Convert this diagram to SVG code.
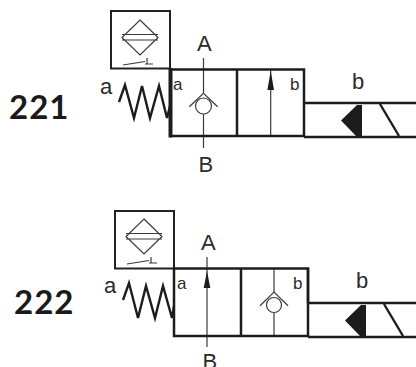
<svg xmlns="http://www.w3.org/2000/svg" width="416" height="367" viewBox="0 0 416 367">
<style>
text{font-family:"Liberation Sans",Arial,sans-serif;fill:#2a2a2a}
text.n{font-family:Lato,"Liberation Sans",sans-serif;font-size:33px;font-weight:bold;fill:#1a1a1a;letter-spacing:1px}
.l{font-size:22px}
.s{font-size:17px}
.box{fill:none;stroke:#222;stroke-width:2}
.t{fill:none;stroke:#3a3a3a;stroke-width:1.2}
.sp{fill:none;stroke:#1c1c1c;stroke-width:2.4;stroke-linejoin:miter}
.w{fill:none;stroke:#1c1c1c;stroke-width:2.5}
.f{fill:#1c1c1c}
</style>
<defs>
<g id="sym">
<path class="t" d="M29 9L47 26.500L29 44L11 26.500Z M11 23.500H47 M11 29H47"/>
<path class="t" d="M12 54L34 50.500M36 47V53M34 53H42"/>
</g>
<g id="sol">
<path class="w" d="M0 0H112M0 34H112"/>
<path class="f" d="M37 17.500L53 2H58V34H53Z"/>
<path class="sp" d="M76 1L95 33"/>
</g>
</defs>
<g id="connectors">
<path class="t" d="M203.500 58V93M203.500 114V148"/>
<path class="t" d="M270.700 70V136"/>
<path class="f" d="M270.700 71L274 90H267.400Z"/>
<path class="t" d="M207 257V347"/>
<path class="f" d="M207 271L210.300 288H203.700Z"/>
<path class="t" d="M274 269V292M274 313V336"/>
</g>
<g id="label-221"><text class="n" x="9" y="119">221</text></g>
<g id="symbol-221"><rect class="box" x="111" y="11" width="59" height="57.500"/><use href="#sym" x="111" y="11"/></g>
<g id="spring-221"><path class="sp" d="M119 102L125 85L134 118L142 86L150 118L159 86L167 118L170 106"/><text class="l" x="100" y="94">a</text></g>
<g id="valve-221">
<path class="w" d="M170 69.500H304V136H170M304 69.500V103M237 69.500V136" stroke-width="3"/>
<path class="f" d="M168.500 68H172.500V137.500H168.500Z"/>
<text class="s" x="173" y="90">a</text><text class="s" x="290" y="90">b</text>
<circle class="t" cx="203.500" cy="106" r="8"/><path class="t" d="M189.300 106.700L203.500 93.300L217.700 106.700"/>
</g>
<g id="solenoid-221"><use href="#sol" x="304" y="103"/><text class="l" x="352" y="89">b</text></g>
<text class="l" x="197" y="51">A</text>
<text class="l" x="198.500" y="172">B</text>
<g id="label-222"><text class="n" x="14" y="314">222</text></g>
<g id="symbol-222"><rect class="box" x="115" y="211" width="59" height="57.500"/><use href="#sym" x="115" y="210"/></g>
<g id="spring-222"><path class="sp" d="M123 300L129 283L138 318L146 286L155 318L163 286L172 318L174 306"/><text class="l" x="104" y="293">a</text></g>
<g id="valve-222">
<path class="w" d="M174 268.500H308V336H174Z"/>
<path class="w" d="M241 269V336M308 268V303" stroke-width="3"/>
<text class="s" x="177" y="289">a</text><text class="s" x="293" y="289">b</text>
<circle class="t" cx="274" cy="305" r="7.500"/><path class="t" d="M260 305.700L274 292L288 305.700"/>
</g>
<g id="solenoid-222"><use href="#sol" x="308" y="303"/><text class="l" x="356" y="288">b</text></g>
<text class="l" x="201" y="250">A</text>
<text class="l" x="202.500" y="369">B</text>
</svg>
